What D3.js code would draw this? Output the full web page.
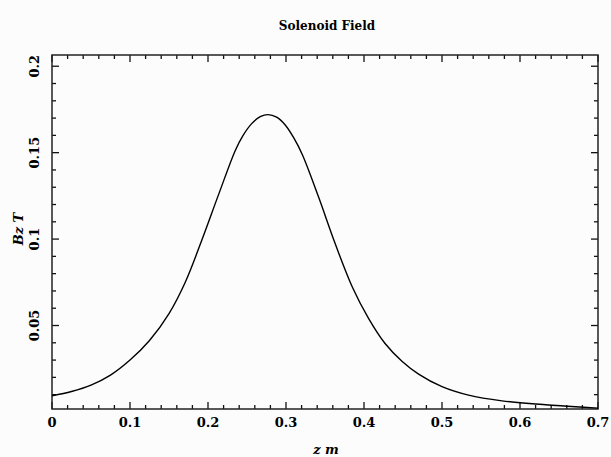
<!DOCTYPE html>
<html>
<head>
<meta charset="utf-8">
<script src="https://cdn.jsdelivr.net/npm/d3@7"></script>
<style>
  body { margin: 0; background: #fcfcfc; }
  svg { display: block; }
  text { font-family: "DejaVu Serif", "Liberation Serif", serif; fill: #000; }
</style>
</head>
<body>
<svg id="chart" width="611" height="457"></svg>
<script>
// field along the axis
const zVals  = [0, 0.025, 0.05, 0.075, 0.1, 0.125, 0.15, 0.171, 0.192, 0.214, 0.235, 0.245, 0.256, 0.267, 0.277,
                0.288, 0.299, 0.31, 0.321, 0.342, 0.363, 0.385, 0.406, 0.427, 0.449, 0.47, 0.5, 0.534, 0.577, 0.641, 0.7];
const bzVals = [0.0093, 0.0118, 0.0155, 0.0213, 0.0300, 0.0413, 0.0569, 0.0752, 0.0993, 0.1263, 0.1513, 0.1600, 0.1668, 0.1708, 0.1720,
                0.1705, 0.1660, 0.1585, 0.1488, 0.1240, 0.0974, 0.0723, 0.0540, 0.0396, 0.0292, 0.0219, 0.0146, 0.0097, 0.0064, 0.0039, 0.0022];

const xMajor = [0, 0.1, 0.2, 0.3, 0.4, 0.5, 0.6, 0.7];
const xLabels = ["0", "0.1", "0.2", "0.3", "0.4", "0.5", "0.6", "0.7"];
const yMajor = [0.05, 0.1, 0.15, 0.2];
const yLabels = ["0.05", "0.1", "0.15", "0.2"];

const title = "Solenoid Field";
const xTitle = "z m";
const yTitle = "Bz T";

const svg = d3.select("#chart");
const L = 52, R = 598, T = 55, B = 409;

const x = d3.scaleLinear().domain([0, 0.7]).range([L, R]);
const y = d3.scaleLinear().domain([0.0017, 0.2065]).range([B, T]);

const xMinor = d3.range(0, 0.7001, 0.02).filter(v => Math.abs(v * 10 - Math.round(v * 10)) > 1e-6);
const yMinor = d3.range(0.01, 0.2065, 0.01).filter(v => Math.abs(v * 20 - Math.round(v * 20)) > 1e-6);

const bigT = 7, smallT = 4;
const g = svg.append("g").attr("stroke", "#111").attr("stroke-width", 1.3);

// inward ticks on all four sides
xMajor.forEach(v => {
  g.append("line").attr("x1", x(v)).attr("x2", x(v)).attr("y1", B).attr("y2", B - bigT);
  g.append("line").attr("x1", x(v)).attr("x2", x(v)).attr("y1", T).attr("y2", T + bigT);
});
xMinor.forEach(v => {
  g.append("line").attr("x1", x(v)).attr("x2", x(v)).attr("y1", B).attr("y2", B - smallT);
  g.append("line").attr("x1", x(v)).attr("x2", x(v)).attr("y1", T).attr("y2", T + smallT);
});
yMajor.forEach(v => {
  g.append("line").attr("y1", y(v)).attr("y2", y(v)).attr("x1", L).attr("x2", L + bigT);
  g.append("line").attr("y1", y(v)).attr("y2", y(v)).attr("x1", R).attr("x2", R - bigT);
});
yMinor.forEach(v => {
  g.append("line").attr("y1", y(v)).attr("y2", y(v)).attr("x1", L).attr("x2", L + smallT);
  g.append("line").attr("y1", y(v)).attr("y2", y(v)).attr("x1", R).attr("x2", R - smallT);
});

g.append("rect").attr("x", L).attr("y", T).attr("width", R - L).attr("height", B - T)
  .attr("fill", "none").attr("stroke", "#222").attr("stroke-width", 1.5);

// tick labels
svg.append("g").selectAll("text").data(xMajor).join("text")
  .attr("x", d => x(d)).attr("y", B + 18)
  .attr("text-anchor", "middle").attr("font-size", 13).attr("font-weight", "bold")
  .text((d, i) => xLabels[i]);

svg.append("g").selectAll("text").data(yMajor).join("text")
  .attr("transform", d => `translate(39,${y(d)}) rotate(-90)`)
  .attr("text-anchor", "middle").attr("font-size", 13).attr("font-weight", "bold")
  .text((d, i) => yLabels[i]);

// curve
const pts = zVals.map((z, i) => [z, bzVals[i]]);
svg.append("path").datum(pts)
  .attr("fill", "none").attr("stroke", "#000").attr("stroke-width", 1.4)
  .attr("d", d3.line().x(d => x(d[0])).y(d => y(d[1])).curve(d3.curveCatmullRom.alpha(0.5)));

// titles
svg.append("text").attr("x", 327).attr("y", 30).attr("text-anchor", "middle")
  .attr("font-size", 12).attr("font-weight", "bold").text(title);

svg.append("text").attr("x", 326).attr("y", 454).attr("text-anchor", "middle")
  .attr("font-size", 13).attr("font-style", "italic").attr("font-weight", "bold").text(xTitle);

svg.append("text").attr("transform", "translate(23,229) rotate(-90)").attr("text-anchor", "middle")
  .attr("font-size", 13).attr("font-style", "italic").attr("font-weight", "bold").text(yTitle);
</script>
</body>
</html>
